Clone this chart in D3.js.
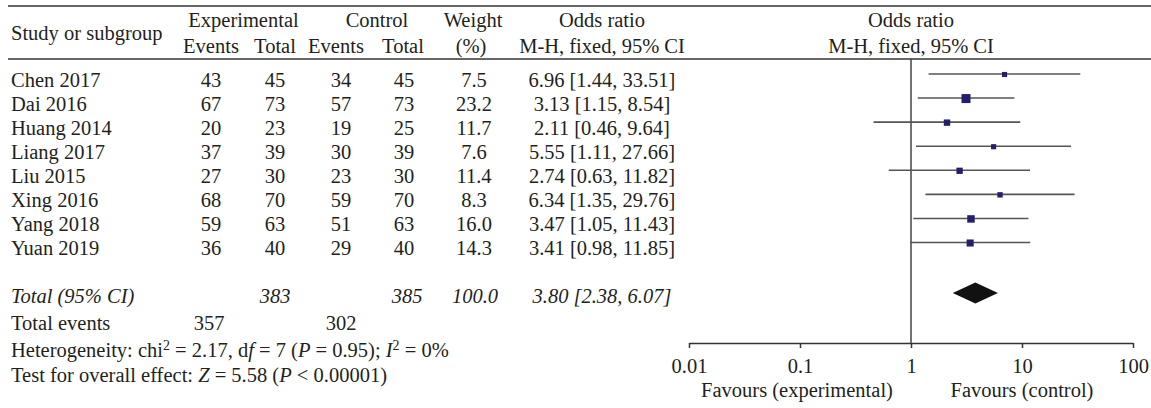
<!DOCTYPE html>
<html>
<head>
<meta charset="utf-8">
<title>Forest plot</title>
<script src="https://cdn.jsdelivr.net/npm/d3@7"></script>
<style>
  body { margin: 0; background: #fff; }
  svg text { font-family: "Liberation Serif", "Times New Roman", serif; font-size: 20.5px; fill: #231f20; }
  .axis path, .axis line { stroke: #333; stroke-width: 1.5; }
  .axis text { font-family: "Liberation Serif", serif; font-size: 20.5px; }
</style>
</head>
<body>
<svg id="chart" width="1151" height="408"></svg>
<script>
const studies    = ["Chen 2017", "Dai 2016", "Huang 2014", "Liang 2017", "Liu 2015", "Xing 2016", "Yang 2018", "Yuan 2019"];
const expEvents  = [43, 67, 20, 37, 27, 68, 59, 36];
const expTotal   = [45, 73, 23, 39, 30, 70, 63, 40];
const ctrlEvents = [34, 57, 19, 30, 23, 59, 51, 29];
const ctrlTotal  = [45, 73, 25, 39, 30, 70, 63, 40];
const weights    = [7.5, 23.2, 11.7, 7.6, 11.4, 8.3, 16.0, 14.3];
const oddsRatio  = [6.96, 3.13, 2.11, 5.55, 2.74, 6.34, 3.47, 3.41];
const ciLow      = [1.44, 1.15, 0.46, 1.11, 0.63, 1.35, 1.05, 0.98];
const ciHigh     = [33.51, 8.54, 9.64, 27.66, 11.82, 29.76, 11.43, 11.85];

const pooled     = {or: 3.80, lo: 2.38, hi: 6.07};
const totals     = {exp: 383, ctrl: 385, weight: "100.0", expEvents: 357, ctrlEvents: 302};
const tickValues = [0.01, 0.1, 1, 10, 100];
const tickLabels = ["0.01", "0.1", "1", "10", "100"];

const svg = d3.select("#chart");

// column centres for the table part
const col = {study: 11, expEv: 211, expTot: 275, ctrlEv: 341, ctrlTot: 404, weight: 474, or: 602};

const x = d3.scaleLog().domain([0.01, 100]).range([689, 1133]);
const yText = d3.scaleLinear().domain([0, studies.length - 1]).range([86.5, 255]);
const boxSize = d3.scaleSqrt().domain([0, d3.max(weights)]).range([0, 9]);

const axisY = 343;
const topRule = 6, headRule = 59;

/// rules
svg.append("line").attr("x1", 8).attr("x2", 1151).attr("y1", topRule).attr("y2", topRule)
    .attr("stroke", "#333").attr("stroke-width", 1.5);
svg.append("line").attr("x1", 8).attr("x2", 1151).attr("y1", headRule).attr("y2", headRule)
    .attr("stroke", "#333").attr("stroke-width", 1.5);

/// headers
function txt(xp, yp, s, anchor, italic) {
    return svg.append("text").attr("x", xp).attr("y", yp)
        .attr("text-anchor", anchor || "middle")
        .style("font-style", italic ? "italic" : null)
        .text(s);
}
txt(col.study, 40, "Study or subgroup", "start");
txt((col.expEv + col.expTot) / 2 + 0.5, 27, "Experimental");
txt(377, 27, "Control");
txt(col.weight - 1, 27, "Weight");
txt(col.or, 27, "Odds ratio");
txt(x(1), 27, "Odds ratio");
txt(col.expEv, 53, "Events");
txt(col.expTot, 53, "Total");
txt(col.ctrlEv - 5, 53, "Events");
txt(col.ctrlTot - 1, 53, "Total");
txt(col.weight - 3, 53, "(%)");
txt(col.or, 53, "M-H, fixed, 95% CI");
txt(x(1), 53, "M-H, fixed, 95% CI");

/// study rows
studies.forEach((s, i) => {
    const yb = yText(i);
    txt(col.study, yb, s, "start");
    txt(col.expEv, yb, expEvents[i]);
    txt(col.expTot, yb, expTotal[i]);
    txt(col.ctrlEv, yb, ctrlEvents[i]);
    txt(col.ctrlTot, yb, ctrlTotal[i]);
    txt(col.weight, yb, weights[i].toFixed(1));
    txt(col.or, yb, `${oddsRatio[i].toFixed(2)} [${ciLow[i].toFixed(2)}, ${ciHigh[i].toFixed(2)}]`);
});

/// total rows
const totalY = 303, eventsY = 330;
txt(col.study, totalY, "Total (95% CI)", "start", true);
txt(col.expTot, totalY, totals.exp, "middle", true);
txt(col.ctrlTot + 3, totalY, totals.ctrl, "middle", true);
txt(col.weight + 1, totalY, totals.weight, "middle", true);
txt(col.or, totalY, `${pooled.or.toFixed(2)} [${pooled.lo.toFixed(2)}, ${pooled.hi.toFixed(2)}]`, "middle", true);
txt(col.study, eventsY, "Total events", "start");
txt(col.expEv - 2, eventsY, totals.expEvents);
txt(col.ctrlEv, eventsY, totals.ctrlEvents);

/// heterogeneity / overall effect
const het = svg.append("text").attr("x", col.study).attr("y", 357);
het.append("tspan").text("Heterogeneity: chi");
het.append("tspan").attr("dy", -7).style("font-size", "14px").text("2");
het.append("tspan").attr("dy", 7).text(" = 2.17, d");
het.append("tspan").style("font-style", "italic").text("f");
het.append("tspan").text(" = 7 (");
het.append("tspan").style("font-style", "italic").text("P");
het.append("tspan").text(" = 0.95); ");
het.append("tspan").style("font-style", "italic").text("I");
het.append("tspan").attr("dy", -7).style("font-size", "14px").text("2");
het.append("tspan").attr("dy", 7).text(" = 0%");

const oe = svg.append("text").attr("x", col.study).attr("y", 382);
oe.append("tspan").text("Test for overall effect: ");
oe.append("tspan").style("font-style", "italic").text("Z");
oe.append("tspan").text(" = 5.58 (");
oe.append("tspan").style("font-style", "italic").text("P");
oe.append("tspan").text(" < 0.00001)");

/// null line
svg.append("line").attr("x1", x(1)).attr("x2", x(1)).attr("y1", headRule).attr("y2", axisY)
    .attr("stroke", "#444").attr("stroke-width", 1.5);

/// CI lines + boxes
const g = svg.append("g");
g.selectAll("line.ci").data(studies).join("line")
    .attr("class", "ci")
    .attr("x1", (d, i) => x(ciLow[i]))
    .attr("x2", (d, i) => x(ciHigh[i]))
    .attr("y1", (d, i) => yText(i) - 12.5)
    .attr("y2", (d, i) => yText(i) - 12.5)
    .attr("stroke", "#555").attr("stroke-width", 1.6);
g.selectAll("rect").data(studies).join("rect")
    .attr("x", (d, i) => x(oddsRatio[i]) - boxSize(weights[i]) / 2)
    .attr("y", (d, i) => yText(i) - 12 - boxSize(weights[i]) / 2)
    .attr("width", (d, i) => boxSize(weights[i]))
    .attr("height", (d, i) => boxSize(weights[i]))
    .attr("fill", "#231f6e");

/// pooled diamond
const dy = totalY - 10;
svg.append("path")
    .attr("d", `M${x(pooled.lo)},${dy} L${x(pooled.or)},${dy - 10.5} L${x(pooled.hi)},${dy} L${x(pooled.or)},${dy + 10.5} Z`)
    .attr("fill", "#111");

/// axis
svg.append("g").attr("class", "axis")
    .attr("transform", `translate(0,${axisY})`)
    .call(d3.axisBottom(x).tickValues(tickValues)
        .tickFormat((d, i) => tickLabels[i])
        .tickSize(5).tickSizeOuter(0).tickPadding(10))
    .call(a => a.selectAll("text").attr("fill", "#231f20"));

txt(x(0.1) - 3, 397, "Favours (experimental)");
txt(x(10), 397, "Favours (control)");
</script>
</body>
</html>
